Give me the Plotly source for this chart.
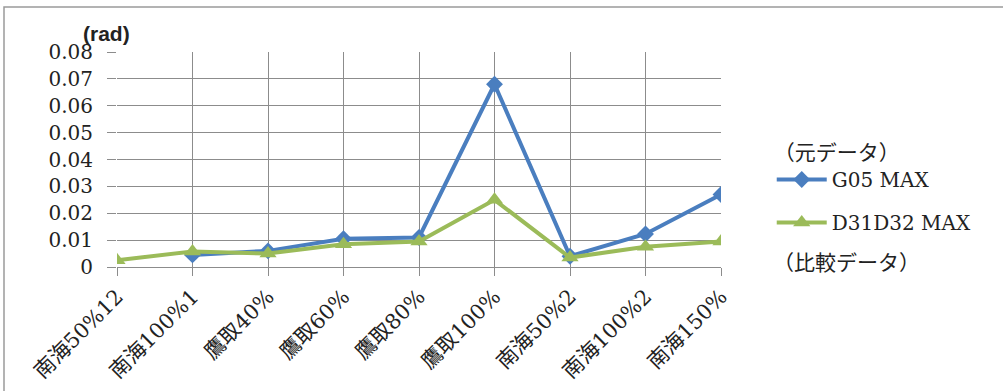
import plotly.graph_objects as go

# Categories (load cases) along the x axis
categories = ["南海50%12", "南海100%1", "鷹取40%", "鷹取60%", "鷹取80%",
              "鷹取100%", "南海50%2", "南海100%2", "南海150%"]

# Maximum rotation angle (rad) per load case
g05_max = [None, 0.0045, 0.006, 0.0105, 0.011, 0.068, 0.004, 0.0123, 0.027]
d31d32_max = [0.0025, 0.0058, 0.005, 0.0085, 0.0095, 0.025, 0.0035, 0.0075, 0.0095]

y_ticks = [0, 0.01, 0.02, 0.03, 0.04, 0.05, 0.06, 0.07, 0.08]
y_tick_text = ["0", "0.01", "0.02", "0.03", "0.04", "0.05", "0.06", "0.07", "0.08"]

BLUE = "#4A7EBF"
GREEN = "#9BBB59"
GRID = "#8C8C8C"
SERIF = "DejaVu Serif, Noto Sans CJK JP, serif"

fig = go.Figure()
fig.add_trace(go.Scatter(
    x=categories, y=g05_max, name="G05 MAX", mode="lines+markers",
    line=dict(color=BLUE, width=4),
    marker=dict(symbol="diamond", size=13, color=BLUE),
    legendgroup="a", connectgaps=False,
))
fig.add_trace(go.Scatter(
    x=categories, y=d31d32_max, name="D31D32 MAX", mode="lines+markers",
    line=dict(color=GREEN, width=4),
    marker=dict(symbol="triangle-up", size=15, color=GREEN),
    legendgroup="b",
))

fig.update_layout(
    width=1003, height=391,
    margin=dict(l=117, r=282, t=52, b=124, autoexpand=False),
    paper_bgcolor="white", plot_bgcolor="white",
    font=dict(family=SERIF, color="#222222"),
    showlegend=True,
    legend=dict(
        x=1.084, y=0.625, xanchor="left", yanchor="top",
        title=dict(text="（元データ）", font=dict(size=21, family=SERIF)),
        font=dict(size=20, family=SERIF),
        tracegroupgap=14, itemwidth=50,
        bgcolor="rgba(0,0,0,0)",
    ),
    xaxis=dict(
        type="category", range=[0, 8], automargin=False,
        showgrid=True, gridcolor=GRID, gridwidth=1,
        showline=True, linecolor=GRID, linewidth=1,
        ticks="outside", ticklen=8, tickcolor=GRID,
        tickangle=-45, tickfont=dict(size=21, family=SERIF, color="#222222"),
        zeroline=False,
    ),
    yaxis=dict(
        range=[0, 0.08], tickvals=y_ticks, ticktext=y_tick_text, automargin=False,
        showgrid=True, gridcolor=GRID, gridwidth=1,
        showline=False, zeroline=False,
        ticks="outside", ticklen=9, tickcolor=GRID, ticklabelstandoff=10,
        tickfont=dict(size=20, family=SERIF, color="#222222"),
    ),
    annotations=[
        dict(text="<b>(rad)</b>", x=-0.018, y=1.084, xref="paper", yref="paper",
             xanchor="center", yanchor="middle", showarrow=False,
             font=dict(size=21, family="Liberation Sans, Arial, sans-serif",
                       color="#222222")),
        dict(text="（比較データ）", x=1.083, y=(267 - 263) / 215, xref="paper", yref="paper",
             xanchor="left", yanchor="middle", showarrow=False,
             font=dict(size=21, family=SERIF)),
    ],
    shapes=[
        dict(type="rect", xref="paper", yref="paper",
             x0=-113 / 604, x1=1.5, y0=-0.7, y1=(267 - 7) / 215,
             line=dict(color="#9A9A9A", width=1.5), fillcolor="rgba(0,0,0,0)", layer="below"),
    ],
)

fig.write_html("out.html")
